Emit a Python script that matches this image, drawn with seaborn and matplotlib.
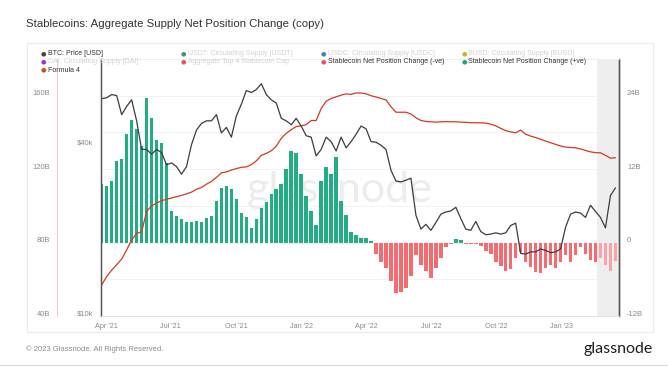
import numpy as np
import pandas as pd
import seaborn as sns
import matplotlib.pyplot as plt
import matplotlib.dates as mdates
from matplotlib.patches import Rectangle
from matplotlib.lines import Line2D
from matplotlib.transforms import ScaledTranslation

# Datos semanales
start_date = "2021-03-26"
n_weeks = 104

net_change_b = [
    9.5, 9.3, 10.0, 13.3, 13.6, 17.8, 20.0, 18.5, 15.8, 23.7,
    20.3, 16.8, 16.3, 13.0, 5.1, 4.3, 3.8, 3.3, 3.4, 3.6,
    3.4, 4.0, 4.3, 6.8, 9.0, 9.2, 8.7, 7.2, 4.8, 4.2,
    2.4, 3.8, 5.7, 6.7, 8.0, 8.8, 9.6, 12.0, 14.9, 14.6,
    11.2, 7.6, 5.1, 2.8, 10.0, 12.3, 11.2, 14.0, 6.8, 4.5,
    1.8, 1.3, 0.7, 0.8, 0.2, -1.8, -3.1, -4.2, -6.2, -8.2,
    -8.0, -7.4, -5.5, -2.0, -3.6, -4.6, -5.8, -4.1, -2.6, -0.8,
    -0.3, 0.6, 0.4, -0.3, -0.2, -0.3, -0.6, -1.3, -1.8, -3.2,
    -3.8, -4.7, -4.4, -2.5, -1.6, -3.2, -4.0, -4.8, -4.9, -4.1,
    -3.6, -4.1, -3.1, -2.0, -3.1, -2.0, -0.8, -1.9, -2.8, -3.1,
    -2.5, -3.6, -4.6, -3.0,
]

btc_price_k = [
    58.0, 58.5, 60.0, 59.5, 51.0, 54.5, 57.5, 48.5, 38.5, 38.5,
    37.0, 38.5, 37.5, 34.0, 34.5, 33.5, 31.5, 33.5, 40.0, 45.0,
    47.5, 48.5, 48.5, 51.0, 44.0, 46.0, 42.5, 50.5, 55.5, 62.0,
    61.0, 62.5, 65.5, 60.0, 57.5, 56.0, 49.5, 48.5, 47.0, 49.5,
    46.5, 43.0, 42.5, 36.5, 38.5, 42.5, 41.0, 38.0, 42.5, 39.0,
    41.0, 43.5, 46.5, 45.5, 41.0, 40.8, 39.8, 38.5, 32.5, 29.8,
    29.6, 30.0, 30.5, 22.6, 20.2, 21.0, 20.0, 21.3, 22.8, 23.2,
    23.4, 24.1, 22.0, 20.2, 20.0, 21.5, 19.8, 19.3, 19.4, 19.6,
    19.4, 19.6, 20.8, 21.2, 16.6, 16.5, 16.8, 16.8, 17.2, 17.0,
    16.7, 16.8, 17.2, 20.5, 22.8, 23.2, 23.0, 22.2, 24.5, 23.3,
    22.2, 20.4, 26.5, 28.2,
]

formula4_b = [
    57.0, 61.5, 65.0, 68.0, 71.0, 76.0, 81.5, 85.0, 85.8, 97.0,
    100.0, 101.5, 102.8, 103.6, 104.3, 105.0, 105.7, 106.5, 107.5, 109.0,
    110.0, 111.8, 113.3, 115.5, 118.0, 118.5, 119.5, 120.3, 121.0, 121.2,
    122.5, 124.5, 127.5, 128.6, 130.0, 132.5, 136.8, 139.5, 141.5, 143.2,
    143.6, 144.2, 146.5, 146.5, 153.0, 157.0, 158.5, 159.4, 160.3, 161.0,
    160.7, 161.5, 161.5, 161.0, 160.0, 159.3, 158.5, 157.7, 154.0, 151.0,
    151.0, 151.0, 150.0, 148.0, 146.5, 146.0, 145.8, 145.6, 145.8, 145.9,
    145.8, 145.8, 145.6, 145.5, 145.3, 145.3, 145.2, 145.1, 144.5, 143.6,
    142.2, 141.0, 140.3, 139.8, 141.3, 139.0, 138.0, 137.2, 136.3, 135.3,
    134.4, 133.5, 132.6, 132.0, 131.8, 131.6, 131.0, 130.2, 129.4, 129.0,
    128.9, 127.5, 126.0, 126.2,
]

x_start, x_end = "2021-03-25", "2023-03-22"
band_start = "2023-02-19"

supply_ticks = [40, 80, 120, 160]
net_ticks = [-12, 0, 12, 24]
btc_ticks = [10000, 40000]

legend_rows = [
    [("BTC: Price [USD]", "#444444", True),
     ("USDT: Circulating Supply [USDT]", "#26a17b", False),
     ("USDC: Circulating Supply [USDC]", "#3b7ddd", False),
     ("BUSD: Circulating Supply [BUSD]", "#c8b414", False)],
    [("DAI: Circulating Supply [DAI]", "#a52bd6", False),
     ("Aggregate Top 4 Stablecoin Cap", "#ef4f5a", False),
     ("Stablecoin Net Position Change (-ve)", "#ef4f5a", True),
     ("Stablecoin Net Position Change (+ve)", "#1fa67a", True)],
    [("Formula 4", "#d3471f", True)],
]

df = pd.DataFrame({
    "date": pd.date_range(start_date, periods=n_weeks, freq="7D"),
    "net": net_change_b,
    "btc": np.array(btc_price_k) * 1000,
    "f4": formula4_b,
})

sns.set_theme(style="white")
plt.rcParams["font.family"] = ["Liberation Sans", "DejaVu Sans"]

W, H = 668, 382
PT = 72 / 100  # px -> pt
fig = plt.figure(figsize=(W / 100, H / 100), dpi=100)
ax = fig.add_axes([101 / W, 66 / H, 518 / W, 257 / H])
ax_f = ax.twinx()
ax_b = ax.twinx()

# barras (eje derecho)
in_band = df["date"] >= pd.Timestamp(band_start)
pos = df["net"].clip(lower=0)
neg = df["net"].clip(upper=0)
ax.axvspan(pd.Timestamp(band_start), pd.Timestamp(x_end), color="#eeeeee", zorder=0.5, lw=0)
ax.bar(df["date"], pos, width=5.0, color=np.where(in_band, "#8fd8c0", "#22ad84"), zorder=1, lw=0)
ax.bar(df["date"], neg, width=5.0, color=np.where(in_band, "#f8a3a6", "#f66a70"), zorder=1, lw=0)
ax.set_ylim(-12, 30)
ax.grid(False)
for y in np.arange(-12, 30, 6):
    ax.axhline(y, color="#f1f1f1", lw=0.6, zorder=0.2)
ax.text(0.46, 0.49, "glassnode", transform=ax.transAxes, ha="center", va="center",
        fontsize=31, color="#ececec", zorder=0.3, family=["Lato", "DejaVu Sans"])

# Formula 4 (eje izquierdo exterior)
sns.lineplot(data=df, x="date", y="f4", ax=ax_f, color="#d8381f", linewidth=0.9)
ax_f.set_ylim(40, 180)
ax_f.spines["left"].set_position(("outward", 44 * PT))
ax_f.spines["left"].set_visible(True)
ax_f.spines["left"].set_color("#f3c6c6")
ax_f.spines["left"].set_linewidth(0.8)
ax_f.set_ylabel("")

# Precio BTC (log)
sns.lineplot(data=df, x="date", y="btc", ax=ax_b, color="#3d3d3d", linewidth=0.9)
ax_b.set_yscale("log")
ax_b.set_ylim(10000, 80000)
ax_b.yaxis.set_minor_locator(plt.NullLocator())
ax_b.set_ylabel("")

# lados de los ejes (twinx los cambia)
ax.yaxis.tick_right()
ax_f.yaxis.tick_left()
ax_b.yaxis.tick_left()

ax.set_yticks(net_ticks)
ax.set_yticklabels([f"{t}B" if t else "0" for t in net_ticks])
ax_f.set_yticks(supply_ticks)
ax_f.set_yticklabels([f"{t}B" for t in supply_ticks])
ax_b.set_yticks(btc_ticks)
ax_b.set_yticklabels([f"${t // 1000}k" for t in btc_ticks])
ax.tick_params(axis="y", length=0, pad=8 * PT, labelsize=5.5, labelcolor="#8a8a8a")
ax_f.tick_params(axis="y", length=0, pad=7 * PT, labelsize=5.5, labelcolor="#8a8a8a")
ax_b.tick_params(axis="y", length=0, pad=8 * PT, labelsize=5.5, labelcolor="#8a8a8a")

lift = ScaledTranslation(0, 3 / 100, fig.dpi_scale_trans)
for a in (ax, ax_f, ax_b):
    for lab in a.get_yticklabels():
        lab.set_transform(lab.get_transform() + lift)

for a in (ax, ax_f, ax_b):
    a.set_xlim(pd.Timestamp(x_start), pd.Timestamp(x_end))
    a.set_xlabel("")
    a.spines["top"].set_color("#eeeeee")
    a.spines["bottom"].set_color("#e2e2e2")
    a.spines["right"].set_color("#555555")
    a.spines["top"].set_linewidth(0.6)
    a.spines["bottom"].set_linewidth(0.6)
    a.spines["right"].set_linewidth(0.9)
ax.spines["left"].set_color("#555555")
ax.spines["left"].set_linewidth(0.9)
ax_b.spines["left"].set_color("#555555")
ax_b.spines["left"].set_linewidth(0.9)

ax.xaxis.set_major_locator(mdates.MonthLocator(bymonth=[1, 4, 7, 10]))
ax.xaxis.set_major_formatter(mdates.DateFormatter("%b '%y"))
ax.tick_params(axis="x", length=0, pad=5, labelsize=5.2, labelcolor="#8a8a8a")
for a in (ax_f, ax_b):
    a.tick_params(axis="x", length=0, labelbottom=False)

# título, leyenda y pie
fig.text(26 / W, 1 - 24 / H, "Stablecoins: Aggregate Supply Net Position Change (copy)",
         fontsize=8.2, color="#333333", va="center")
fig.add_artist(Rectangle((27 / W, 1 - 332 / H), 626 / W, 289 / H, transform=fig.transFigure,
                         fill=False, ec="#ebebeb", lw=0.8))
col_x = [43, 183, 323, 464]
row_y = [53.5, 61.7, 70]
for r, row in enumerate(legend_rows):
    for c, (label, col, active) in enumerate(row):
        fig.text(col_x[c] / W, 1 - row_y[r] / H, "●", color=col, fontsize=4.5,
                 va="center", ha="center", family=["DejaVu Sans"])
        fig.text((col_x[c] + 4.5) / W, 1 - row_y[r] / H, label, fontsize=5,
                 color="#333333" if active else "#d2d2d2", va="center")

fig.text(26 / W, 1 - 349 / H, "© 2023 Glassnode. All Rights Reserved.", fontsize=5.5,
         color="#8c8c8c", va="center")
fig.text(653 / W, 1 - 349 / H, "glassnode", fontsize=11.5, color="#1e1e1e", va="center",
         ha="right", family=["Lato", "DejaVu Sans"])
fig.add_artist(Line2D([0, 1], [1 - 365 / H] * 2, transform=fig.transFigure, color="#d8d8d8", lw=0.8))

fig.savefig("out.png", dpi=100)
